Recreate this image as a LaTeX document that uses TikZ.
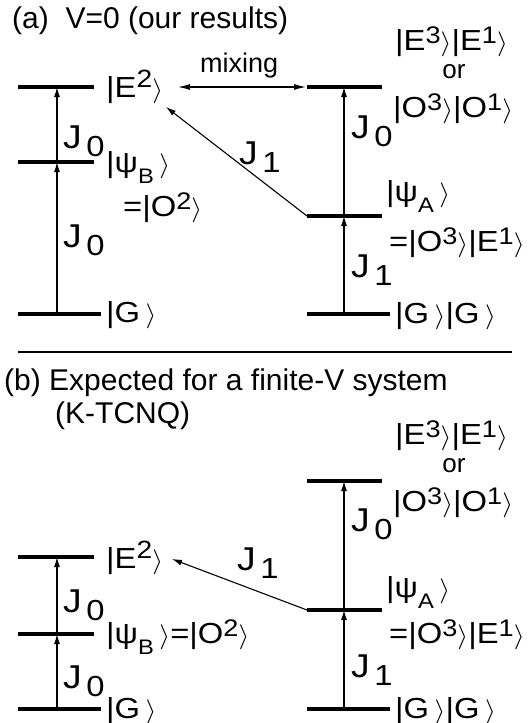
\documentclass[tikz,border=0pt]{standalone}
\usepackage{fontspec}
\usepackage{graphicx}
\setmainfont{Liberation Sans}
\usetikzlibrary{arrows.meta}
\newcommand\kt[1]{\textbar#1\ensuremath{\rangle}}
\newcommand\sps[3][7pt]{\raisebox{#1}{\fontsize{#2}{#2}\selectfont #3}}
\newcommand\sbs[2][-11pt]{\raisebox{#1}{\fontsize{21}{21}\selectfont #2}}
\newcommand\Jl[1]{{\fontsize{33}{33}\selectfont J}\hspace{4pt}\raisebox{-8pt}{\fontsize{29}{29}\selectfont #1}}
\newcommand\wx[1]{\scalebox{1.13}[1]{#1}}
\begin{document}
\begin{tikzpicture}[x=1pt,y=-1pt,
  lvl/.style={line width=3.6pt},
  trans/.style={-{Latex[length=10pt,width=6pt]},line width=1.1pt},
  mixarrow/.style={{Latex[length=12pt,width=6pt]}-{Latex[length=12pt,width=6pt]},line width=1.1pt},
  lab/.style={anchor=base west,inner sep=0pt,font=\fontsize{29}{31}\selectfont},
  ttl/.style={anchor=base west,inner sep=0pt,font=\fontsize{30}{33}\selectfont}]
\useasboundingbox (0,0) rectangle (530,723);
% ---------------- (a) ----------------
\node[ttl] (ta) at (12,28) {(a)\ \ V=0 (our results)};
% left levels
\coordinate (aEl) at (18,87);  \coordinate (aEr) at (94,87);
\coordinate (aBl) at (18,162); \coordinate (aBr) at (94,162);
\coordinate (aGl) at (18,314); \coordinate (aGr) at (101,314);
\coordinate (aEm) at (57,87); \coordinate (aBm) at (57,162); \coordinate (aGm) at (57,314);
\draw[lvl] (aEl) -- (aEr);
\draw[lvl] (aBl) -- (aBr);
\draw[lvl] (aGl) -- (aGr);
\draw[trans] (aGm) -- (aBm);
\draw[trans] (aBm) -- (aEm);
% right levels
\coordinate (aTl) at (307,87);  \coordinate (aTr) at (382,87);
\coordinate (aAl) at (307,216); \coordinate (aAr) at (382,216);
\coordinate (aHl) at (307,314); \coordinate (aHr) at (390,314);
\coordinate (aTm) at (344,87); \coordinate (aAm) at (344,216); \coordinate (aHm) at (344,314);
\draw[lvl] (aTl) -- (aTr);
\draw[lvl] (aAl) -- (aAr);
\draw[lvl] (aHl) -- (aHr);
\draw[trans] (aHm) -- (aAm);
\draw[trans] (aAm) -- (aTm);
% mixing and diagonal
\coordinate (aMixL) at (178,87); \coordinate (aMixR) at (306,87);
\draw[mixarrow] (aMixL) -- (aMixR);
\node[anchor=base west,inner sep=0pt,font=\fontsize{27}{29}\selectfont] (mix) at (200,72) {mixing};
\coordinate (aDtip) at (166,107);
\draw[trans] (aAl) -- (aDtip);
% labels
\node[lab] (aE2) at (106,97) {\wx{\kt{E\sps[10pt]{25}{2}}}};
\node[lab] (aPB) at (106,172) {\wx{\kt{ψ\sbs{B}\,}}};
\node[lab] (aO2) at (123,216) {\wx{=\kt{O\sps{24}{2}}}};
\node[lab] (aG) at (106,322) {\wx{\kt{G\,}}};
\node[lab] (aJ1) at (63,148) {\wx{\Jl{0}}};
\node[lab] (aJ2) at (63,247) {\wx{\Jl{0}}};
\node[lab] (aJd) at (239,164) {\wx{\Jl{1}}};
\node[lab] (aE3) at (395,50) {\wx{\kt{E\sps{24}{3}}\kt{E\sps{24}{1}}}};
\node[anchor=base,inner sep=0pt,font=\fontsize{26}{28}\selectfont] (aor) at (454,78) {or};
\node[lab] (aO3) at (393,117) {\wx{\kt{O\sps{24}{3}}\kt{O\sps{24}{1}}}};
\node[lab] (aJ3) at (351,138) {\wx{\Jl{0}}};
\node[lab] (aPA) at (386,201) {\wx{\kt{ψ\sbs{A}\,}}};
\node[lab] (aOE) at (389,251) {\wx{=\kt{O\sps{24}{3}}\kt{E\sps{24}{1}}}};
\node[lab] (aJ4) at (351,277) {\wx{\Jl{1}}};
\node[lab] (aGG) at (395,323) {\wx{\kt{G\,}\kt{G\,}}};
% separator
\coordinate (sepL) at (18,352); \coordinate (sepR) at (512,352);
\draw[line width=1.2pt] (sepL) -- (sepR);
% ---------------- (b) ----------------
\node[ttl] (tb) at (4,390) {(b) Expected for a finite-V system};
\node[ttl] (tb2) at (55,423) {(K-TCNQ)};
\coordinate (bEl) at (18,557);  \coordinate (bEr) at (94,557);
\coordinate (bBl) at (18,634); \coordinate (bBr) at (94,634);
\coordinate (bGl) at (18,709); \coordinate (bGr) at (101,709);
\coordinate (bEm) at (57,557); \coordinate (bBm) at (57,634); \coordinate (bGm) at (57,709);
\draw[lvl] (bEl) -- (bEr);
\draw[lvl] (bBl) -- (bBr);
\draw[lvl] (bGl) -- (bGr);
\draw[trans] (bGm) -- (bBm);
\draw[trans] (bBm) -- (bEm);
\coordinate (bTl) at (307,481);  \coordinate (bTr) at (382,481);
\coordinate (bAl) at (307,610); \coordinate (bAr) at (382,610);
\coordinate (bHl) at (307,709); \coordinate (bHr) at (390,709);
\coordinate (bTm) at (344,481); \coordinate (bAm) at (344,610); \coordinate (bHm) at (344,709);
\draw[lvl] (bTl) -- (bTr);
\draw[lvl] (bAl) -- (bAr);
\draw[lvl] (bHl) -- (bHr);
\draw[trans] (bHm) -- (bAm);
\draw[trans] (bAm) -- (bTm);
\coordinate (bDtip) at (172,559);
\draw[trans] (bAl) -- (bDtip);
\node[lab] (bE3) at (395,444) {\wx{\kt{E\sps{24}{3}}\kt{E\sps{24}{1}}}};
\node[anchor=base,inner sep=0pt,font=\fontsize{26}{28}\selectfont] (bor) at (454,472) {or};
\node[lab] (bO3) at (393,511) {\wx{\kt{O\sps{24}{3}}\kt{O\sps{24}{1}}}};
\node[lab] (bJ3) at (351,531) {\wx{\Jl{0}}};
\node[lab] (bE2) at (106,568) {\wx{\kt{E\sps[10pt]{25}{2}}}};
\node[lab] (bJd) at (237,570) {\wx{\Jl{1}}};
\node[lab] (bPA) at (386,597) {\wx{\kt{ψ\sbs{A}\,}}};
\node[lab] (bJ1) at (63,612) {\wx{\Jl{0}}};
\node[lab] (bPB) at (106,643) {\wx{\kt{ψ\sbs{B}\,}=\kt{O\sps{24}{2}}}};
\node[lab] (bOE) at (389,643) {\wx{=\kt{O\sps{24}{3}}\kt{E\sps{24}{1}}}};
\node[lab] (bJ4) at (351,677) {\wx{\Jl{1}}};
\node[lab] (bJ2) at (63,688) {\wx{\Jl{0}}};
\node[lab] (bG) at (106,718) {\wx{\kt{G\,}}};
\node[lab] (bGG) at (395,718) {\wx{\kt{G\,}\kt{G\,}}};
\end{tikzpicture}
\end{document}
